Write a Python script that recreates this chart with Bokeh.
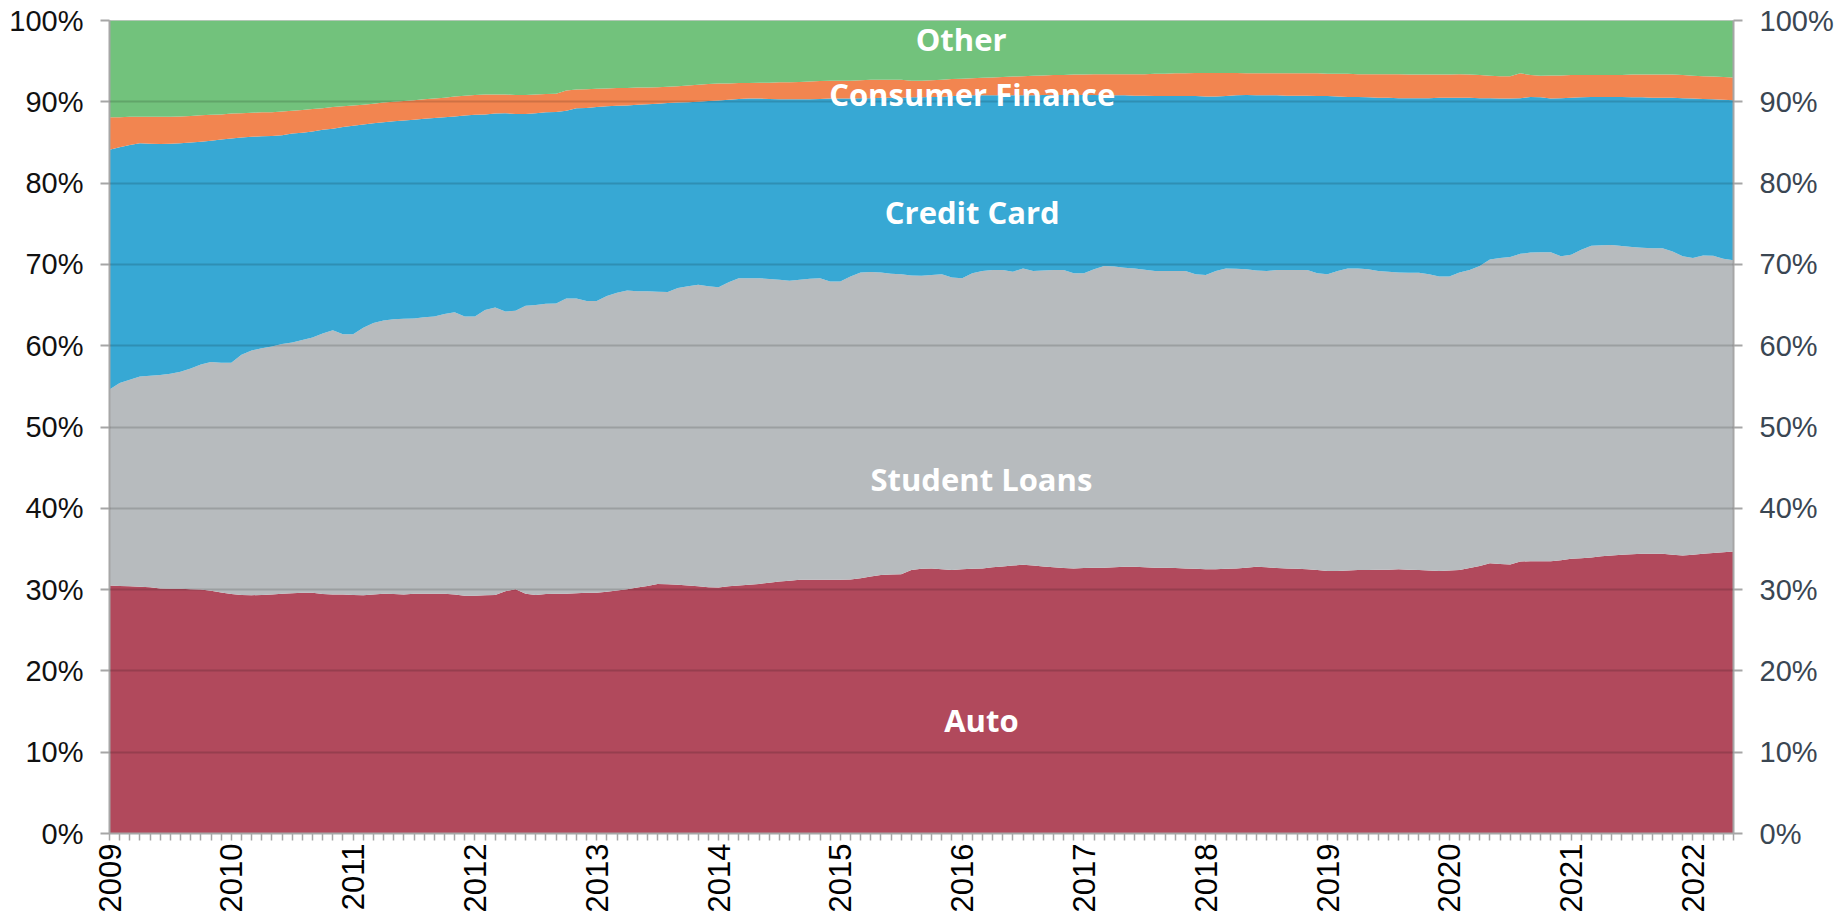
import numpy as np
from bokeh.plotting import figure
from bokeh.models import ColumnDataSource, Range1d, LinearAxis, FixedTicker, Label
from bokeh.embed import file_html
from bokeh.resources import INLINE

# ---- data: monthly, Jan 2009 .. May 2022 (cumulative tops, %) ----
years = ["2009", "2010", "2011", "2012", "2013", "2014", "2015",
         "2016", "2017", "2018", "2019", "2020", "2021", "2022"]
series_names = ["Auto", "Student Loans", "Credit Card", "Consumer Finance", "Other"]

auto_top = [
    30.5, 30.45, 30.4, 30.35, 30.3, 30.15, 30.1, 30.1, 30.05, 30.0, 29.85, 29.65,
    29.45, 29.35, 29.3, 29.35, 29.4, 29.5, 29.55, 29.6, 29.6, 29.45, 29.4, 29.4,
    29.35, 29.3, 29.4, 29.5, 29.45, 29.4, 29.5, 29.5, 29.5, 29.5, 29.4, 29.25,
    29.25, 29.3, 29.35, 29.8, 30.05, 29.5, 29.35, 29.45, 29.5, 29.5, 29.55, 29.6,
    29.6, 29.75, 29.9, 30.05, 30.25, 30.45, 30.7, 30.65, 30.6, 30.5, 30.4, 30.3,
    30.25, 30.4, 30.5, 30.6, 30.7, 30.85, 31.0, 31.1, 31.2, 31.2, 31.2, 31.2,
    31.2, 31.25, 31.4, 31.6, 31.8, 31.85, 31.9, 32.4, 32.55, 32.6, 32.5, 32.4,
    32.5, 32.55, 32.6, 32.75, 32.85, 32.95, 33.05, 32.95, 32.85, 32.75, 32.65, 32.6,
    32.65, 32.7, 32.7, 32.75, 32.8, 32.8, 32.75, 32.7, 32.7, 32.65, 32.6, 32.55,
    32.5, 32.5, 32.55, 32.6, 32.7, 32.8, 32.75, 32.65, 32.6, 32.55, 32.5, 32.4,
    32.3, 32.3, 32.35, 32.4, 32.4, 32.45, 32.45, 32.5, 32.45, 32.4, 32.35, 32.3,
    32.35, 32.4, 32.65, 32.9, 33.25, 33.15, 33.1, 33.45, 33.5, 33.5, 33.5, 33.6,
    33.8, 33.85, 33.95, 34.1, 34.2, 34.3, 34.35, 34.4, 34.4, 34.4, 34.3, 34.2,
    34.3, 34.4, 34.5, 34.6, 34.7,
]
student_top = [
    54.6, 55.4, 55.8, 56.2, 56.3, 56.4, 56.55, 56.8, 57.2, 57.7, 58.0, 57.9,
    57.9, 58.9, 59.4, 59.7, 59.9, 60.2, 60.4, 60.7, 61.0, 61.5, 61.9, 61.4,
    61.4, 62.2, 62.8, 63.1, 63.25, 63.3, 63.35, 63.5, 63.6, 63.9, 64.1, 63.6,
    63.6, 64.4, 64.7, 64.2, 64.3, 64.9, 65.0, 65.15, 65.2, 65.8, 65.8, 65.5,
    65.5, 66.1, 66.5, 66.8, 66.7, 66.7, 66.65, 66.6, 67.1, 67.3, 67.5, 67.3,
    67.2, 67.8, 68.3, 68.3, 68.3, 68.2, 68.1, 68.0, 68.1, 68.25, 68.3, 67.9,
    67.9, 68.5, 69.0, 69.05, 69.0, 68.85, 68.8, 68.65, 68.6, 68.7, 68.8, 68.4,
    68.3, 68.9, 69.2, 69.3, 69.3, 69.1, 69.5, 69.2, 69.25, 69.3, 69.3, 68.9,
    68.9, 69.4, 69.8, 69.75, 69.6, 69.5, 69.35, 69.2, 69.2, 69.2, 69.2, 68.8,
    68.7, 69.2, 69.5, 69.45, 69.4, 69.25, 69.2, 69.3, 69.3, 69.3, 69.3, 68.9,
    68.8, 69.2, 69.5, 69.5, 69.4, 69.2, 69.1, 69.0, 68.96, 68.96, 68.8, 68.5,
    68.5, 69.0, 69.3, 69.8, 70.6, 70.8, 70.9, 71.3, 71.45, 71.5, 71.5, 71.0,
    71.2, 71.8, 72.3, 72.35, 72.4, 72.25, 72.15, 72.05, 72.0, 72.0, 71.6, 71.0,
    70.8, 71.1, 71.05, 70.7, 70.5,
]
credit_top = [
    84.1, 84.4, 84.7, 84.9, 84.85, 84.8, 84.85, 84.9, 85.0, 85.1, 85.2, 85.35,
    85.5, 85.6, 85.7, 85.75, 85.8, 85.9, 86.1, 86.2, 86.35, 86.55, 86.7, 86.9,
    87.05, 87.2, 87.35, 87.5, 87.6, 87.7, 87.8, 87.9, 88.0, 88.1, 88.2, 88.3,
    88.4, 88.45, 88.55, 88.6, 88.5, 88.5, 88.6, 88.7, 88.75, 88.9, 89.2, 89.25,
    89.35, 89.45, 89.5, 89.55, 89.65, 89.7, 89.75, 89.85, 89.9, 89.95, 90.0, 90.1,
    90.15, 90.25, 90.35, 90.4, 90.4, 90.35, 90.3, 90.3, 90.3, 90.3, 90.35, 90.4,
    90.4, 90.4, 90.45, 90.45, 90.5, 90.5, 90.5, 90.55, 90.55, 90.6, 90.6, 90.7,
    90.75, 90.8, 90.8, 90.8, 90.8, 90.8, 90.8, 90.8, 90.85, 90.85, 90.85, 90.85,
    90.85, 90.85, 90.8, 90.8, 90.8, 90.75, 90.75, 90.7, 90.7, 90.7, 90.7, 90.7,
    90.65, 90.65, 90.7, 90.8, 90.85, 90.8, 90.8, 90.8, 90.75, 90.75, 90.75, 90.7,
    90.7, 90.65, 90.6, 90.6, 90.55, 90.5, 90.5, 90.45, 90.45, 90.45, 90.45, 90.5,
    90.5, 90.5, 90.5, 90.45, 90.45, 90.4, 90.4, 90.45, 90.6, 90.55, 90.4, 90.45,
    90.5, 90.55, 90.6, 90.6, 90.6, 90.6, 90.55, 90.55, 90.5, 90.5, 90.5, 90.45,
    90.4, 90.35, 90.3, 90.25, 90.2,
]
consumer_finance_top = [
    88.1, 88.1, 88.15, 88.15, 88.15, 88.15, 88.15, 88.2, 88.25, 88.35, 88.4, 88.45,
    88.55, 88.6, 88.65, 88.7, 88.7, 88.8, 88.9, 89.0, 89.1, 89.2, 89.35, 89.45,
    89.55, 89.65, 89.75, 89.9, 90.0, 90.1, 90.2, 90.3, 90.4, 90.5, 90.65, 90.75,
    90.85, 90.9, 90.9, 90.9, 90.85, 90.85, 90.9, 90.95, 91.0, 91.4, 91.5, 91.55,
    91.6, 91.65, 91.7, 91.7, 91.75, 91.75, 91.8, 91.85, 91.9, 92.0, 92.1, 92.2,
    92.25, 92.25, 92.3, 92.3, 92.35, 92.35, 92.4, 92.4, 92.45, 92.5, 92.55, 92.6,
    92.6, 92.6, 92.65, 92.7, 92.7, 92.7, 92.7, 92.6, 92.6, 92.65, 92.7, 92.8,
    92.85, 92.9, 92.95, 93.0, 93.05, 93.1, 93.15, 93.2, 93.25, 93.3, 93.3, 93.35,
    93.35, 93.4, 93.4, 93.4, 93.4, 93.4, 93.4, 93.45, 93.45, 93.5, 93.5, 93.55,
    93.55, 93.55, 93.55, 93.55, 93.5, 93.5, 93.5, 93.5, 93.5, 93.5, 93.5, 93.5,
    93.45, 93.45, 93.45, 93.4, 93.4, 93.4, 93.4, 93.4, 93.35, 93.35, 93.35, 93.35,
    93.35, 93.4, 93.35, 93.3, 93.2, 93.15, 93.15, 93.5, 93.3, 93.2, 93.25, 93.25,
    93.3, 93.3, 93.3, 93.3, 93.3, 93.3, 93.35, 93.35, 93.35, 93.35, 93.35, 93.3,
    93.2, 93.15, 93.1, 93.05, 93.0,
]
colors = ["#B1495C", "#B7BBBE", "#37A8D4", "#F28550", "#72C27C"]

# ---- derive each series' share from the cumulative tops ----
tops = np.array([auto_top, student_top, credit_top, consumer_finance_top, [100.0] * len(auto_top)])
bottoms = np.vstack([np.zeros(len(auto_top)), tops[:-1]])
shares = tops - bottoms
months = np.arange(len(auto_top))

data = {"m": months}
for name, s in zip(series_names, shares):
    data[name] = s
source = ColumnDataSource(data)

n_last = int(months[-1])
p = figure(width=1837, height=915,
           x_range=Range1d(0, n_last), y_range=Range1d(0, 100),
           output_backend="svg", toolbar_location=None,
           min_border_left=109, min_border_right=104,
           min_border_top=20, min_border_bottom=82,
           background_fill_color="white", border_fill_color="white")
p.outline_line_color = "#c8c8c8"
p.outline_line_width = 1

p.varea_stack(stackers=series_names, x="m", color=colors, source=source)

# ---- axes ----
month_ticks = list(range(0, n_last + 1))
x_over = {m: "" for m in month_ticks}
for i, y in enumerate(years):
    x_over[12 * i] = y
xa = p.xaxis[0]
xa.ticker = FixedTicker(ticks=month_ticks)
xa.major_label_overrides = x_over
xa.major_label_orientation = np.pi / 2
xa.major_label_text_font = "Liberation Sans"
xa.major_label_text_font_size = "31px"
xa.major_label_text_color = "#000000"
xa.major_label_standoff = 3
xa.axis_line_color = "#a6a6a6"
xa.axis_line_width = 2
xa.major_tick_line_color = "#a6a6a6"
xa.major_tick_line_width = 1.5
xa.major_tick_out = 7
xa.major_tick_in = 0
xa.minor_tick_line_color = None

y_ticks = list(range(0, 101, 10))
y_over = {v: f"{v}%" for v in y_ticks}

def style_y(ax, color, standoff):
    ax.ticker = FixedTicker(ticks=y_ticks)
    ax.major_label_overrides = y_over
    ax.major_label_text_font = "Liberation Sans"
    ax.major_label_text_font_size = "29px"
    ax.major_label_text_color = color
    ax.major_label_standoff = standoff
    ax.axis_line_color = "#a6a6a6"
    ax.axis_line_width = 2
    ax.major_tick_line_color = "#a6a6a6"
    ax.major_tick_line_width = 2
    ax.major_tick_out = 9
    ax.major_tick_in = 0
    ax.minor_tick_line_color = None

style_y(p.yaxis[0], "#111111", 17)
ra = LinearAxis()
style_y(ra, "#3a4652", 17)
p.add_layout(ra, "right")

# ---- grid drawn over the areas ----
p.xgrid.visible = False
p.ygrid.ticker = FixedTicker(ticks=list(range(10, 100, 10)))
p.ygrid.grid_line_color = "#000000"
p.ygrid.grid_line_alpha = 0.15
p.ygrid.grid_line_width = 2
p.ygrid.level = "guide"

# ---- series labels ----
label_pos = {
    "Other": (83.9, 97.7),
    "Consumer Finance": (85.0, 90.9),
    "Credit Card": (85.0, 76.5),
    "Student Loans": (85.9, 43.6),
    "Auto": (85.9, 14.0),
}
for name in series_names[::-1]:
    lx, ly = label_pos[name]
    p.add_layout(Label(x=lx, y=ly, text=name, text_align="center", text_baseline="middle",
                       text_color="white", text_font="Open Sans", text_font_style="bold",
                       text_font_size="31px"))

open("out.html", "w").write(file_html(p, INLINE))
